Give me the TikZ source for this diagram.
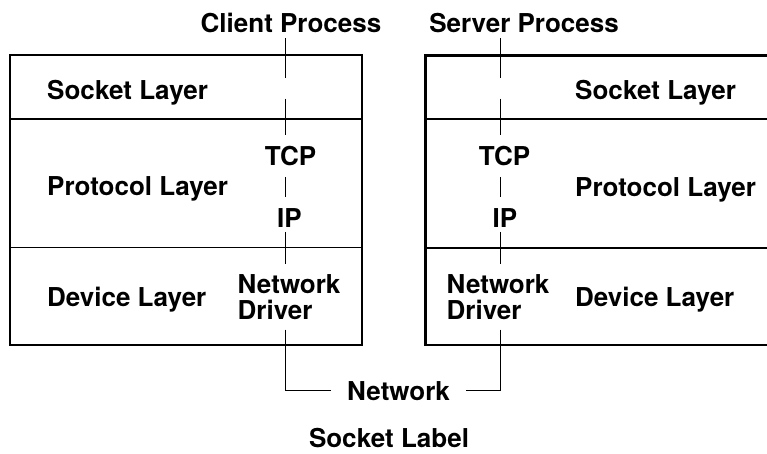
\documentclass[tikz,border=0pt]{standalone}
\usepackage{fontspec}
\setmainfont{TeX Gyre Heros}
\usetikzlibrary{positioning,calc}

\begin{document}
\begin{tikzpicture}[x=1pt,y=-1pt,
			every node/.style={inner sep=0pt, font=\fontsize{26}{26.6}\selectfont\bfseries},
			layer/.style={anchor=base west},
			proc/.style={anchor=base, text depth=6pt},
			gap/.style={minimum height=20pt, minimum width=0pt},
			drv/.style={align=left, inner ysep=9.5pt},
			frame/.style={line width=2.2pt},
			split/.style={line width=1.2pt},
			conn/.style={line width=1pt}]
		\useasboundingbox (0,0) rectangle (767,453);
		% the two hosts
		\draw[frame] (10,55) rectangle (362,345);
		\draw[split] (10,119) -- (362,119) (10,247.5) -- (362,247.5);
		\draw[frame] (768,55.5) -| (425.5,345) -- (768,345);
		\draw[split] (425.5,119) -- (768,119) (425.5,248) -- (768,248);
		% layer names
		\node[layer] (csock) at (47,99) {Socket Layer};
		\node[layer] (cprot) at (47,195) {Protocol Layer};
		\node[layer] (cdev) at (47,306.5) {Device Layer};
		\node[layer] (ssock) at (575,99) {Socket Layer};
		\node[layer] (sprot) at (575,196) {Protocol Layer};
		\node[layer] (sdev) at (575,306.5) {Device Layer};
		% client side
		\node[proc] (cproc) at (291,32) {Client Process};
		\node[gap] (cgap) at (285,88.5) {};
		\node[anchor=base, text height=30.5pt, text depth=11pt] (ctcp) at (290.5,165.7) {TCP};
		\node[anchor=base, text height=30.3pt, text depth=4.7pt] (cip) at (289.5,227) {IP};
		\node[drv, anchor=west] (cdrv) at (237.5,297) {Network\\Driver};
		% server side
		\node[proc] (sproc) at (524,32) {Server Process};
		\node[gap] (sgap) at (500,88.5) {};
		\node[anchor=base, text height=30.5pt, text depth=11pt] (stcp) at (504.5,165.7) {TCP};
		\node[anchor=base, text height=30.3pt, text depth=4.7pt] (sip) at (505,227) {IP};
		\node[drv, anchor=west] (sdrv) at (446.5,297) {Network\\Driver};
		% the wire
		\node[anchor=base, inner xsep=15.5pt] (net) at (398.5,400) {Network};
		\node[anchor=base] (title) at (389,447.5) {Socket Label};
		\draw[conn] (cgap.north |- cproc.south) -- (cgap.north);
		\draw[conn] (cgap.south) -- (cgap.south |- ctcp.north);
		\draw[conn] (cgap |- ctcp.south) -- (cgap |- cip.north);
		\draw[conn] (cgap |- cip.south) -- (cgap |- cdrv.north);
		\draw[conn] (cgap |- cdrv.south) |- (net.west);
		\draw[conn] (sgap.north |- sproc.south) -- (sgap.north);
		\draw[conn] (sgap.south) -- (sgap.south |- stcp.north);
		\draw[conn] (sgap |- stcp.south) -- (sgap |- sip.north);
		\draw[conn] (sgap |- sip.south) -- (sgap |- sdrv.north);
		\draw[conn] (sgap |- sdrv.south) |- (net.east);
\end{tikzpicture}
\end{document}
